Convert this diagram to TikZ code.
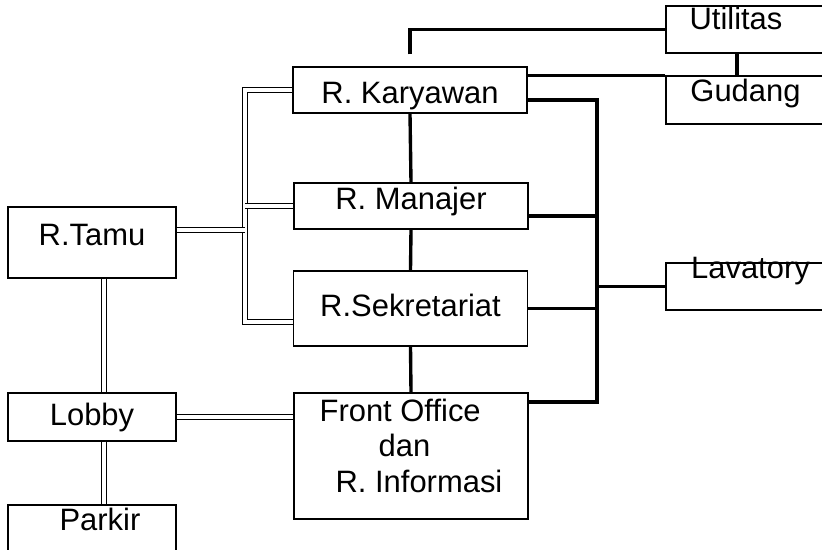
\documentclass[tikz,border=0pt]{standalone}
\usepackage{fontspec}
\setmainfont{Liberation Sans}
\begin{document}
\begin{tikzpicture}[x=0.025cm, y=-0.025cm,
		room/.style={draw, line width=0.9pt, inner sep=0pt, minimum width=5.85cm, font=\fontsize{22pt}{24.9pt}\selectfont},
		dbl/.style={draw, line width=1pt, double=white, double distance=2.4pt},
		heavy/.style={draw, line width=2.4pt}]
			%%%%% START %%%%%
			
			\useasboundingbox (0,0) rectangle (822,550);
			\clip (0,0) rectangle (822,550);
			
			% left column
			\node[room, minimum width=4.2cm, minimum height=1.775cm, text height=0.556cm, text depth=0.425cm] (tamu) at (92,242.5) {R.Tamu};
			\node[room, minimum width=4.2cm, minimum height=1.2cm, text height=0.556cm, text depth=0.125cm] (lobby) at (92,417) {Lobby};
			\node[room, minimum width=4.2cm, minimum height=1.75cm, text height=0.556cm, text depth=1.05cm] (parkir) at (92,540) {\hspace*{0.4cm}Parkir};
			
			% middle column
			\node[room, minimum height=1.15cm, text height=0.656cm, text depth=0cm] (kary) at (410,90) {R. Karyawan};
			\node[room, minimum height=1.15cm, text height=0.556cm, text depth=0.4cm] (manajer) at (411,206) {R. Manajer};
			\node[room, minimum height=1.875cm, text height=0.556cm, text depth=0.15cm] (sekr) at (410.5,308.5) {R.Sekretariat};
			\node[room, minimum height=3.15cm, align=left, text height=2.3cm, text depth=0.5cm] (front) at (411,456) {Front Office\\\hspace*{1.475cm}dan\\\hspace*{0.4cm}R. Informasi};
			
			% right column
			\node[room, minimum width=4.85cm, minimum height=1.175cm, text height=0.556cm, text depth=0.55cm] (utilitas) at (763,29.5) {Utilitas\hspace*{1.35cm}};
			\node[room, minimum width=4.85cm, minimum height=1.2cm, text height=0.556cm, text depth=0.5cm] (gudang) at (763,100) {Gudang\hspace*{0.875cm}};
			\node[room, minimum width=4.85cm, minimum height=1.175cm, text height=0cm, text depth=0.383cm] (lavatory) at (763,286.5) {Lavatory\hspace*{0.625cm}};
			
			\coordinate (lbus) at (245,230);
			\coordinate (lbustop) at (245,90);
			\coordinate (lbusbot) at (245,322);
			\coordinate (stair) at (104,417);
			\coordinate (rbus) at (597,402);
			
			% double links
			\draw[dbl] (kary.west) -- (kary.west -| lbustop) -- (lbusbot) -- (lbusbot -| sekr.west);
			\draw[dbl] (tamu.east |- lbus) -- (lbus);
			\draw[dbl] (manajer.west -| lbus) -- (manajer.west);
			\draw[dbl] (tamu.south -| stair) -- (lobby.north -| stair);
			\draw[dbl] (lobby.south -| stair) -- (parkir.north -| stair);
			\draw[dbl] (lobby.east) -- (lobby.east -| front.west);
			
			% heavy links
			\draw[heavy, shorten <=0.3cm] (kary.north) |- (utilitas.west);
			\draw[heavy] (kary.east |- gudang.north west) -- (gudang.north west);
			\draw[heavy] ([xshift=-0.65cm]utilitas.south) -- ([xshift=-0.65cm]gudang.north);
			\draw[heavy] ([yshift=-0.25cm]kary.east) -| (rbus) -- (rbus -| front.east);
			\draw[heavy] ([yshift=-0.25cm]manajer.east) -- ([yshift=-0.25cm]manajer.east -| rbus);
			\draw[heavy] (sekr.east) -- (sekr.east -| rbus);
			\draw[heavy] (lavatory.west -| rbus) -- (lavatory.west);
			\draw[heavy] (kary.south) -- (manajer.north);
			\draw[heavy] (manajer.south) -- (sekr.north);
			\draw[heavy] (sekr.south) -- (front.north);
			
			%%%%% END %%%%%
\end{tikzpicture}
\end{document}
